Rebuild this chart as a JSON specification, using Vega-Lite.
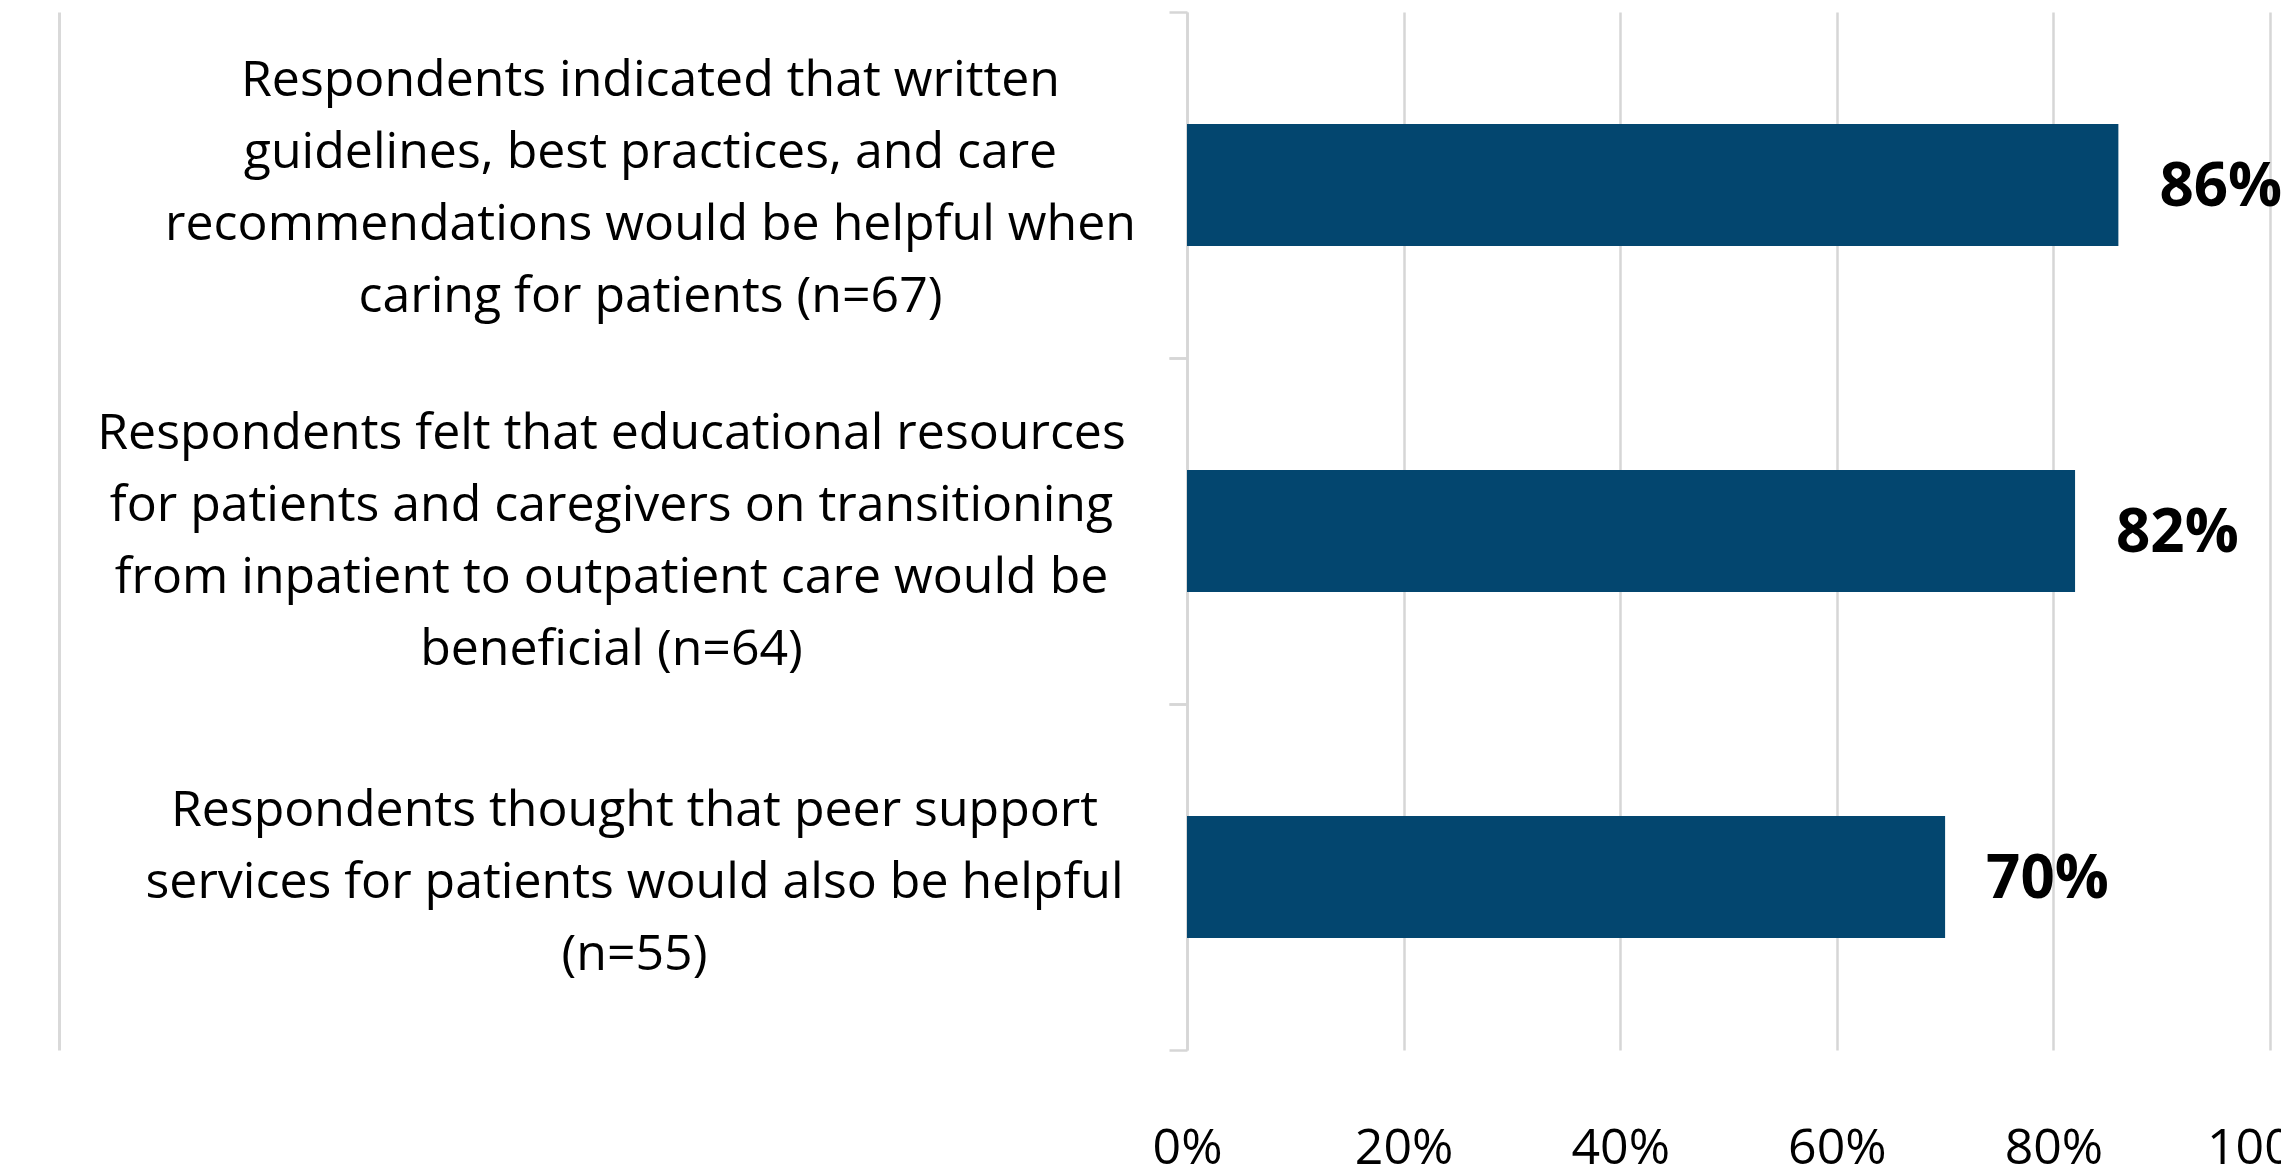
{
  "$schema": "https://vega.github.io/schema/vega-lite/v6.json",
  "autosize": {"type": "none"},
  "padding": {"left": 1187, "top": 12, "right": 11, "bottom": 120},
  "width": 1083,
  "height": 1038,
  "background": "white",
  "config": {
    "view": {"stroke": null},
    "font": "Open Sans",
    "axis": {"labelFont": "Open Sans", "labelColor": "#000000"}
  },
  "data": {
    "values": [
      {"item": "Respondents indicated that written|guidelines, best practices, and care|recommendations would be helpful when|caring for patients (n=67)", "share": 0.86},
      {"item": "Respondents felt that educational resources|for patients and caregivers on transitioning|from inpatient to outpatient care would be|beneficial (n=64)", "share": 0.82},
      {"item": "Respondents thought that peer support|services for patients would also be helpful|(n=55)", "share": 0.70}
    ]
  },
  "encoding": {
    "x": {
      "field": "share",
      "type": "quantitative",
      "scale": {"domain": [0, 1]},
      "axis": {
        "title": null,
        "format": ".0%",
        "values": [0, 0.2, 0.4, 0.6, 0.8, 1],
        "domain": false,
        "ticks": false,
        "grid": true,
        "gridColor": "#d6d6d6",
        "gridWidth": 2.5,
        "labelFontSize": 50,
        "labelPadding": 73,
        "labelBaseline": "top",
        "labelFlush": false
      }
    }
  },
  "layer": [
    {
      "mark": {"type": "bar", "color": "#03466F"},
      "encoding": {
        "y": {
          "field": "item",
          "type": "nominal",
          "sort": null,
          "scale": {"paddingInner": 0.647, "paddingOuter": 0.3235},
          "axis": {
            "title": null,
            "labelExpr": "split(datum.label, '|')",
            "labelFontSize": 50,
            "labelLineHeight": 72,
            "labelAlign": "center",
            "labelBaseline": "middle",
            "labelLimit": 2000,
            "labelFlush": false,
            "labelOverlap": false,
            "labelPadding": {
              "condition": [
                {"test": "indexof(datum.value, 'written') >= 0", "value": 519},
                {"test": "indexof(datum.value, 'educational') >= 0", "value": 558}
              ],
              "value": 535
            },
            "labelOffset": {
              "condition": [
                {"test": "indexof(datum.value, 'written') >= 0", "value": 7},
                {"test": "indexof(datum.value, 'educational') >= 0", "value": 14}
              ],
              "value": 45
            },
            "bandPosition": 0,
            "tickOffset": -112,
            "ticks": true,
            "tickSize": 18,
            "tickColor": "#d6d6d6",
            "tickWidth": 2.5,
            "domainColor": "#d6d6d6",
            "domainWidth": 2.5,
            "grid": false
          }
        }
      }
    },
    {
      "mark": {"type": "text", "align": "left", "baseline": "middle", "dx": 41, "dy": 3, "fontSize": 60, "fontWeight": "bold", "color": "#000000"},
      "encoding": {
        "y": {
          "field": "item",
          "type": "nominal",
          "sort": null,
          "scale": {"paddingInner": 0.647, "paddingOuter": 0.3235},
          "axis": {
            "title": null,
            "orient": "left",
            "offset": 1128,
            "labels": false,
            "ticks": false,
            "grid": false,
            "domainColor": "#d9d9d9",
            "domainWidth": 3
          }
        },
        "text": {"field": "share", "type": "quantitative", "format": ".0%"}
      }
    },
    {
      "mark": {"type": "bar", "opacity": 0},
      "encoding": {
        "y": {
          "field": "item",
          "type": "nominal",
          "sort": null,
          "scale": {"paddingInner": 0.647, "paddingOuter": 0.3235},
          "axis": {
            "title": null,
            "orient": "left",
            "labels": false,
            "domain": false,
            "grid": false,
            "ticks": true,
            "bandPosition": 1,
            "tickOffset": 112,
            "tickSize": 18,
            "tickColor": "#d6d6d6",
            "tickWidth": 2.5
          }
        }
      }
    }
  ],
  "resolve": {"axis": {"y": "independent"}}
}
